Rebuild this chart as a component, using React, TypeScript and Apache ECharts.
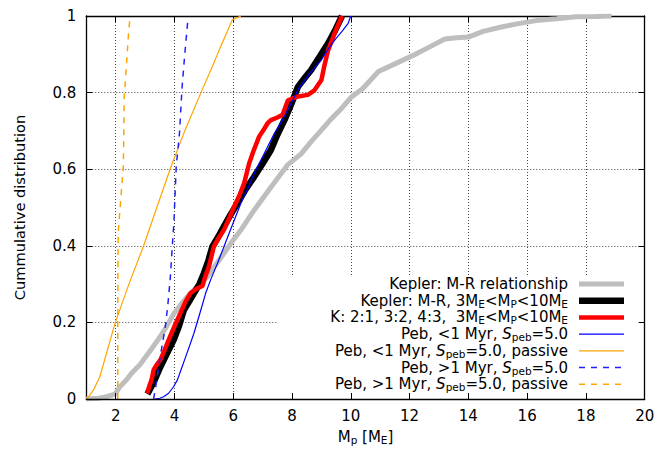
import React, { useEffect, useRef } from "react";
import * as echarts from "echarts";

const FONT = "'DejaVu Sans', sans-serif";

const X_TICKS = [2, 4, 6, 8, 10, 12, 14, 16, 18, 20];

const SERIES_NAMES = [
  "Kepler: M-R relationship",
  "Kepler: M-R, 3ME<MP<10ME",
  "K: 2:1, 3:2, 4:3,  3ME<MP<10ME",
  "Peb, <1 Myr, Speb=5.0",
  "Peb, <1 Myr, Speb=5.0, passive",
  "Peb, >1 Myr, Speb=5.0",
  "Peb, >1 Myr, Speb=5.0, passive",
];

const LEGEND_MARKUP = [
  "Kepler: M-R relationship",
  "Kepler: M-R, 3M{sub|E}<M{sub|P}<10M{sub|E}",
  "K: 2:1, 3:2, 4:3,  3M{sub|E}<M{sub|P}<10M{sub|E}",
  "Peb, <1 Myr, {it|S}{sub|peb}=5.0",
  "Peb, <1 Myr, {it|S}{sub|peb}=5.0, passive",
  "Peb, >1 Myr, {it|S}{sub|peb}=5.0",
  "Peb, >1 Myr, {it|S}{sub|peb}=5.0, passive",
];

// Kepler: M-R relationship (gray)
const KMR_X = [1.0, 1.4, 1.69, 1.98, 2.14, 2.37, 2.54, 2.83, 3.1, 3.4, 3.7, 3.97, 4.25, 4.54, 4.85, 5.12, 5.4, 5.68, 5.95, 6.26, 6.71, 7.3, 7.86, 8.31, 8.65, 9.0, 9.34, 9.7, 10.0, 10.4, 10.94, 11.5, 12.2, 12.7, 13.2, 13.6, 14.0, 14.5, 15.16, 15.7, 16.3, 17.0, 17.67, 18.3, 18.87];
const KMR_Y = [0.0, 0.002, 0.006, 0.013, 0.032, 0.05, 0.067, 0.09, 0.118, 0.15, 0.185, 0.222, 0.25, 0.276, 0.298, 0.319, 0.35, 0.38, 0.41, 0.441, 0.493, 0.555, 0.612, 0.64, 0.672, 0.702, 0.732, 0.76, 0.787, 0.81, 0.855, 0.875, 0.9, 0.92, 0.94, 0.943, 0.945, 0.96, 0.972, 0.98, 0.988, 0.993, 0.998, 0.999, 1.0];

// Kepler: M-R, 3ME<MP<10ME (black)
const K310_X = [3.08, 3.3, 3.52, 3.75, 3.97, 4.15, 4.32, 4.5, 4.66, 4.85, 5.0, 5.15, 5.29, 5.5, 5.68, 5.9, 6.14, 6.4, 6.71, 7.0, 7.28, 7.5, 7.74, 8.0, 8.2, 8.45, 8.65, 8.95, 9.23, 9.45, 9.7];
const K310_Y = [0.013, 0.045, 0.084, 0.12, 0.154, 0.19, 0.232, 0.255, 0.276, 0.3, 0.328, 0.36, 0.398, 0.425, 0.45, 0.48, 0.511, 0.545, 0.58, 0.615, 0.65, 0.69, 0.728, 0.775, 0.815, 0.84, 0.859, 0.895, 0.929, 0.96, 1.0];

// K: 2:1, 3:2, 4:3 (red)
const KRES_X = [3.07, 3.15, 3.22, 3.29, 3.4, 3.52, 3.65, 3.8, 4.0, 4.2, 4.38, 4.54, 4.75, 4.95, 5.05, 5.17, 5.34, 5.5, 5.68, 5.85, 6.03, 6.2, 6.37, 6.54, 6.7, 6.88, 7.05, 7.17, 7.28, 7.5, 7.68, 7.86, 8.2, 8.54, 8.75, 9.0, 9.1, 9.23, 9.45, 9.7];
const KRES_Y = [0.015, 0.035, 0.05, 0.076, 0.09, 0.102, 0.125, 0.154, 0.19, 0.224, 0.255, 0.276, 0.288, 0.295, 0.32, 0.345, 0.398, 0.42, 0.441, 0.47, 0.502, 0.53, 0.563, 0.615, 0.65, 0.685, 0.705, 0.72, 0.728, 0.735, 0.742, 0.78, 0.79, 0.794, 0.805, 0.833, 0.87, 0.911, 0.955, 1.0];

// Peb, <1 Myr, Speb=5.0 (blue solid)
const PEB1_X = [3.33, 3.5, 3.63, 3.8, 3.97, 4.1, 4.26, 4.45, 4.66, 4.85, 5.06, 5.25, 5.46, 5.66, 5.86, 6.05, 6.26, 6.5, 6.71, 7.05, 7.4, 7.65, 7.86, 8.2, 8.6, 9.0, 9.2, 9.45, 9.7, 9.91, 10.0];
const PEB1_Y = [0.0, 0.002, 0.006, 0.015, 0.032, 0.05, 0.084, 0.125, 0.171, 0.22, 0.276, 0.315, 0.354, 0.393, 0.433, 0.47, 0.511, 0.55, 0.589, 0.64, 0.694, 0.725, 0.755, 0.807, 0.85, 0.885, 0.91, 0.937, 0.96, 0.981, 1.0];

// Peb, <1 Myr, Speb=5.0, passive (orange solid)
const PEB1P_X = [1.0, 1.1, 1.24, 1.46, 1.98, 2.45, 2.95, 3.4, 3.86, 4.35, 4.89, 5.3, 5.57, 5.8, 5.97, 6.26];
const PEB1P_Y = [0.0, 0.008, 0.023, 0.058, 0.198, 0.3, 0.4, 0.5, 0.602, 0.7, 0.798, 0.87, 0.92, 0.96, 0.99, 1.0];

// Peb, >1 Myr, Speb=5.0 (blue dashed)
const PEB2_X = [3.29, 3.38, 3.46, 3.58, 3.69, 3.78, 3.86, 3.94, 3.98, 4.06, 4.17, 4.26, 4.35, 4.45];
const PEB2_Y = [0.0, 0.04, 0.084, 0.14, 0.189, 0.25, 0.319, 0.415, 0.46, 0.607, 0.694, 0.815, 0.9, 0.985];

// Peb, >1 Myr, Speb=5.0, passive (orange dashed)
const PEB2P_X = [2.07, 2.07, 2.08, 2.09, 2.14, 2.26, 2.29, 2.32, 2.43, 2.49];
const PEB2P_Y = [0.0, 0.2, 0.4, 0.44, 0.49, 0.607, 0.79, 0.82, 0.946, 1.0];

const SERIES_X = [KMR_X, K310_X, KRES_X, PEB1_X, PEB1P_X, PEB2_X, PEB2P_X];
const SERIES_Y = [KMR_Y, K310_Y, KRES_Y, PEB1_Y, PEB1P_Y, PEB2_Y, PEB2P_Y];

const STYLES: { color: string; width: number; type: any }[] = [
  { color: "#bebebe", width: 5, type: "solid" },
  { color: "#000000", width: 6.5, type: "solid" },
  { color: "#ff0000", width: 4.5, type: "solid" },
  { color: "#0000ff", width: 1.2, type: "solid" },
  { color: "#ffa500", width: 1.2, type: "solid" },
  { color: "#2020ff", width: 1.5, type: [6, 6] },
  { color: "#ffa500", width: 1.5, type: [6, 6] },
];

// legend layout (pixels)
const LEG_TEXT_RIGHT = 568;
const LEG_LINE_X1 = 579;
const LEG_LINE_X2 = 624;
const LEG_TOP = 284;
const LEG_STEP = 16.7;

const zip = (xs: number[], ys: number[]) => xs.map((x, i) => [x, ys[i]]);

const FS = 15;
const textBase = { fontFamily: FONT, color: "#000", fontSize: FS };
const rich: any = {
  sub: { fontFamily: FONT, color: "#000", fill: "#000", fontSize: 10.5, verticalAlign: "bottom" },
  it: { fontFamily: FONT, color: "#000", fill: "#000", fontSize: FS, fontStyle: "italic" },
};
const gridLine = { show: true, lineStyle: { color: "#444", width: 1, type: [1, 2] } };
const frame = { show: true, onZero: false, lineStyle: { color: "#000", width: 1.3 } };

export default function App() {
  const ref = useRef<HTMLDivElement>(null);
  useEffect(() => {
    document.body.style.margin = "0";
    const chart = echarts.init(ref.current!, null, { renderer: "svg" });

    const legendElems: any[] = [];
    SERIES_NAMES.forEach((_, i) => {
      const y = LEG_TOP + i * LEG_STEP;
      legendElems.push({
        type: "text",
        x: LEG_TEXT_RIGHT,
        y,
        z: 10,
        silent: true,
        style: {
          text: LEGEND_MARKUP[i],
          fill: "#000",
          fontFamily: FONT,
          fontSize: FS,
          lineHeight: 17,
          align: "right",
          verticalAlign: "middle",
          rich,
        },
      });
      legendElems.push({
        type: "line",
        z: 10,
        silent: true,
        shape: { x1: LEG_LINE_X1, y1: y, x2: LEG_LINE_X2, y2: y },
        style: {
          stroke: STYLES[i].color,
          lineWidth: STYLES[i].width,
          lineDash: Array.isArray(STYLES[i].type) ? STYLES[i].type : null,
        },
      });
    });

    const option: any = {
      animation: false,
      backgroundColor: "#fff",
      grid: { left: 86.3, right: 13.3, top: 16, bottom: 53 },
      xAxis: [
        {
          type: "value",
          position: "bottom",
          min: 1,
          max: 20,
          z: 5,
          axisLine: frame,
          axisTick: { show: true, inside: true, length: 6, customValues: X_TICKS, lineStyle: { color: "#000" } },
          axisLabel: { ...textBase, margin: 9, customValues: X_TICKS },
          splitLine: { show: false },
          name: "M{sub|p} [M{sub|E}]",
          nameLocation: "middle",
          nameGap: 29,
          nameTextStyle: { ...textBase, lineHeight: 17, rich },
        },
        {
          type: "value",
          position: "top",
          min: 1,
          max: 20,
          z: 0,
          axisLine: frame,
          axisTick: { show: true, inside: true, length: 6, customValues: X_TICKS, lineStyle: { color: "#000" } },
          axisLabel: { show: false, customValues: X_TICKS },
          splitLine: gridLine,
        },
      ],
      yAxis: [
        {
          type: "value",
          position: "left",
          min: 0,
          max: 1,
          interval: 0.2,
          z: 0,
          axisLine: frame,
          axisTick: { show: true, inside: true, length: 6, lineStyle: { color: "#000" } },
          axisLabel: { ...textBase, margin: 10 },
          splitLine: gridLine,
          name: "Cummulative distribution",
          nameLocation: "middle",
          nameGap: 59,
          nameTextStyle: { ...textBase, fontSize: 14.6 },
        },
        {
          type: "value",
          position: "right",
          min: 0,
          max: 1,
          interval: 0.2,
          z: 5,
          axisLine: frame,
          axisTick: { show: true, inside: true, length: 6, lineStyle: { color: "#000" } },
          axisLabel: { show: false },
          splitLine: { show: false },
        },
      ],
      graphic: [
        {
          type: "rect",
          left: 278,
          top: 275,
          z: 1,
          silent: true,
          shape: { width: 366, height: 123 },
          style: { fill: "#fff" },
        },
        ...legendElems,
      ],
      series: SERIES_NAMES.map((n, i) => ({
        name: n,
        type: "line",
        xAxisIndex: 0,
        yAxisIndex: 0,
        symbol: "none",
        showSymbol: false,
        silent: true,
        z: 2,
        lineStyle: { color: STYLES[i].color, width: STYLES[i].width, type: STYLES[i].type },
        itemStyle: { color: STYLES[i].color },
        data: zip(SERIES_X[i], SERIES_Y[i]),
      })),
    };
    chart.setOption(option);
    return () => chart.dispose();
  }, []);
  return <div ref={ref} style={{ width: 658, height: 452 }} />;
}
